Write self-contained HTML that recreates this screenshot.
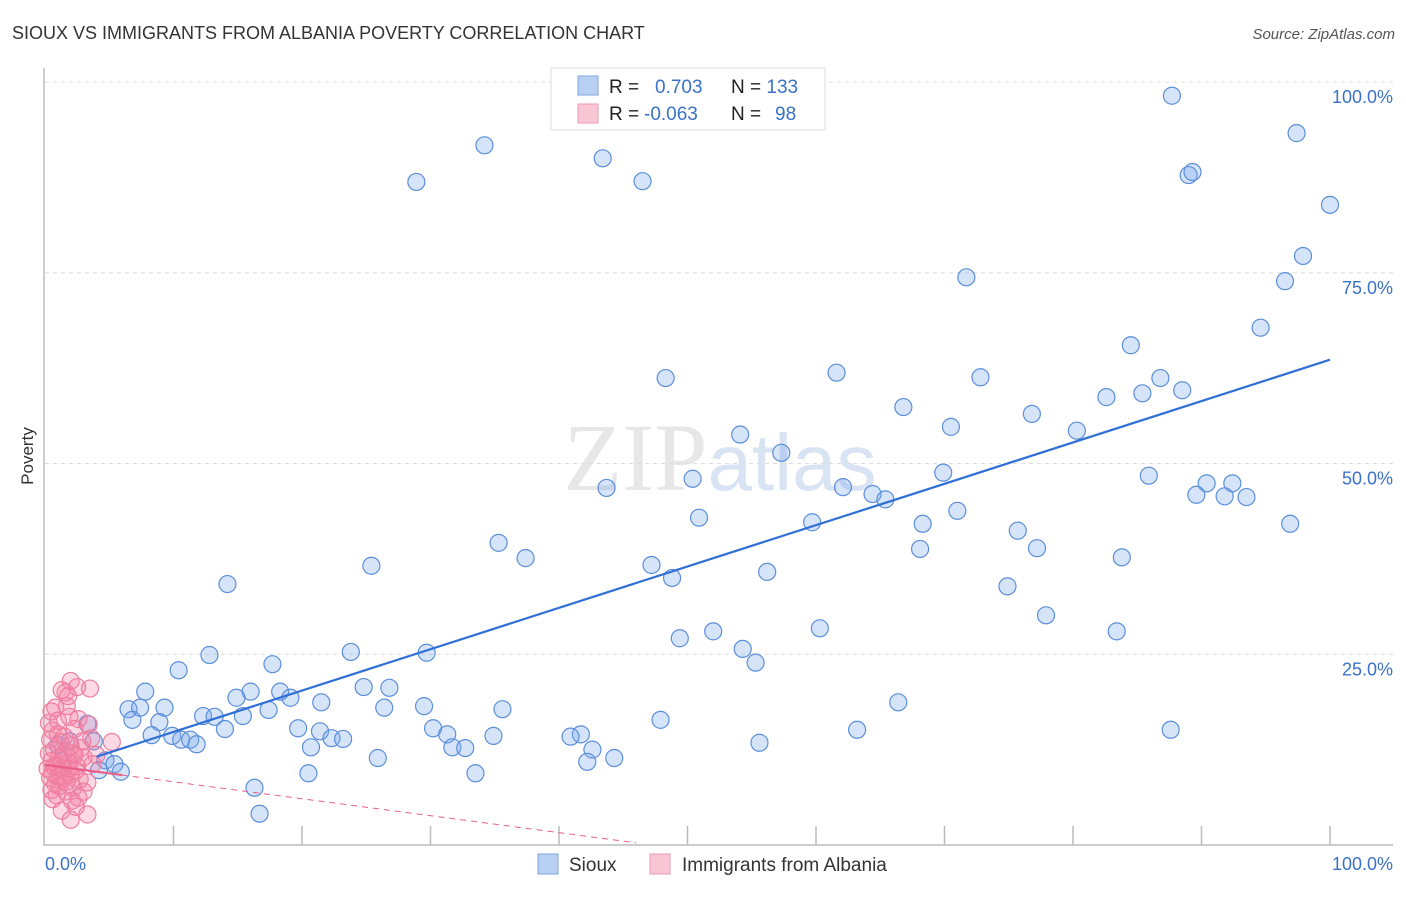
<!DOCTYPE html>
<html><head><meta charset="utf-8"><style>
body{margin:0;background:#fff;font-family:"Liberation Sans",sans-serif}
</style></head><body>
<svg id="chart" width="1406" height="892" xmlns="http://www.w3.org/2000/svg" font-family="Liberation Sans, sans-serif">
<text x="12" y="39" font-size="18" fill="#333">SIOUX VS IMMIGRANTS FROM ALBANIA POVERTY CORRELATION CHART</text>
<text x="1395" y="39" font-size="15" fill="#555" text-anchor="end" font-style="italic">Source: ZipAtlas.com</text>
<text x="720" y="490" font-size="96" fill="#ddd" text-anchor="middle" font-family="Liberation Serif, serif" opacity="0.7">ZIP<tspan fill="#c8d8f0" font-family="Liberation Sans, sans-serif" font-size="80">atlas</tspan></text>
<text transform="translate(33,456) rotate(-90)" font-size="17" fill="#333" text-anchor="middle">Poverty</text>
<g id="grid"></g>
<g id="pts"></g>
<g id="lines"></g>
<g>
<rect x="551" y="68" width="274" height="62" fill="#fff" stroke="#ddd"/>
<rect x="578" y="76" width="20" height="19" fill="#b8d1f3" stroke="#7fa6e0"/>
<rect x="578" y="104" width="20" height="19" fill="#f9c6d6" stroke="#ee9ab5"/>
<text x="609" y="93" font-size="19" fill="#222">R = <tspan fill="#3a72c8" x="655">0.703</tspan><tspan x="731" fill="#222">N = </tspan><tspan fill="#3a72c8">133</tspan></text>
<text x="609" y="120" font-size="19" fill="#222">R = <tspan fill="#3a72c8" x="644">-0.063</tspan><tspan x="731" fill="#222">N = </tspan><tspan fill="#3a72c8" x="775">98</tspan></text>
</g>
<g>
<rect x="538" y="854" width="20" height="20" fill="#b8d1f3" stroke="#7fa6e0"/>
<text x="569" y="871" font-size="19" fill="#333">Sioux</text>
<rect x="650" y="854" width="20" height="20" fill="#f9c6d6" stroke="#ee9ab5"/>
<text x="682" y="871" font-size="19" fill="#333">Immigrants from Albania</text>
</g>
</svg>
<script>
const yTicks=[25,50,75,100];
const yTickLabels=["25.0%","50.0%","75.0%","100.0%"];
const xTickLabels=["0.0%","100.0%"];
const siouxX=[87.7,34.2,43.4,28.9,46.5,97.4,89.0,89.3,100,97.9,71.7,96.5,94.6,84.5,61.6,48.3,72.8,86.8,85.4,88.5,82.6,66.8,76.8,70.5,80.3,54.1,57.3,69.9,85.9,50.4,43.7,62.1,64.4,65.4,90.4,92.4,89.6,91.8,93.5,71.0,50.9,59.7,68.3,96.9,75.7,35.3,68.1,77.2,37.4,83.8,25.4,47.2,56.2,48.8,14.2,74.9,77.9,60.3,52.0,83.4,49.4,54.3,23.8,29.7,12.8,55.3,17.7,10.4,7.8,16.0,18.3,24.8,26.8,14.9,19.1,6.5,7.4,9.3,21.5,29.5,26.4,35.6,17.4,66.4,12.3,13.2,15.4,3.3,6.8,8.9,47.9,19.7,30.2,14.0,21.4,87.6,63.2,8.3,9.9,31.3,34.9,41.7,40.9,22.3,23.2,10.6,11.3,11.8,3.8,20.7,31.7,32.7,42.6,55.6,4.7,5.4,25.9,42.2,44.3,4.2,5.9,20.5,33.5,16.3,16.7,1.0,1.3,1.9];
const siouxY=[98.2,91.7,90.0,86.9,87.0,93.3,87.8,88.2,83.9,77.2,74.4,73.9,67.8,65.5,61.9,61.2,61.3,61.2,59.2,59.6,58.7,57.4,56.5,54.8,54.3,53.8,51.4,48.8,48.4,48.0,46.8,46.9,46.0,45.3,47.4,47.4,45.9,45.7,45.6,43.8,42.9,42.3,42.1,42.1,41.2,39.6,38.8,38.9,37.6,37.7,36.6,36.7,35.8,35.0,34.2,33.9,30.1,28.4,28.0,28.0,27.1,25.7,25.3,25.2,24.9,23.9,23.7,22.9,20.1,20.1,20.1,20.7,20.6,19.3,19.3,17.8,18.0,18.0,18.7,18.2,18.0,17.8,17.7,18.7,16.9,16.8,16.9,15.9,16.4,16.1,16.4,15.3,15.3,15.2,14.9,15.1,15.1,14.4,14.3,14.5,14.3,14.5,14.2,14.0,13.9,13.8,13.8,13.2,13.6,12.8,12.8,12.7,12.5,13.4,11.1,10.6,11.4,10.9,11.4,9.8,9.6,9.4,9.4,7.5,4.1,13.1,11.1,13.6];
const albX=[2.0,1.6,1.8,3.5,1.3,2.5,0.8,1.7,0.5,2.6,1.0,3.4,0.6,2.3,1.5,0.4,1.2,2.0,2.8,0.7,1.6,0.3,2.3,1.1,3.0,0.5,1.8,0.9,2.5,0.2,1.4,3.7,0.6,2.0,1.2,0.4,2.7,1.7,0.8,3.3,1.1,2.2,0.5,1.6,3.0,2.6,0.9,2.1,0.6,2.4,1.3,3.3,2.0,5.2,4.0,3.6,1.9,0.3,2.9,1.0,1.4,2.2,0.7,1.9,1.0,2.4,1.5];
const albY=[21.5,20.0,19.5,20.5,20.3,20.7,18.0,18.2,17.5,16.5,16.3,15.8,15.0,15.2,14.2,13.8,13.5,13.0,12.7,12.5,12.3,12.0,11.8,11.5,11.5,11.0,10.8,10.5,10.3,10.0,10.0,10.6,9.5,9.3,9.0,8.8,8.6,8.3,8.0,8.2,7.7,7.5,7.2,7.0,7.0,6.2,6.5,5.8,6.0,5.0,4.5,4.0,3.3,13.5,11.8,14.0,16.8,16.0,13.6,14.5,11.8,12.0,10.3,10.0,9.0,9.8,8.8];
const siouxFit=[9.4,0.542],albFit=[10.5,-0.222];
const NS="http://www.w3.org/2000/svg";
const X=v=>45+v*12.85, Y=v=>845-v*7.63;
function mk(t,a,p){const e=document.createElementNS(NS,t);for(const k in a)e.setAttribute(k,a[k]);(p||document.getElementById('chart')).appendChild(e);return e;}
const grid=document.getElementById('grid');
yTicks.forEach((t,i)=>{
 const l=mk('line',{x1:45,x2:1393,y1:Y(t),y2:Y(t),stroke:'#ddd','stroke-dasharray':'4,4'},grid);
 
 
 const tx=mk('text',{x:1393,y:Y(t)+21,'font-size':18,fill:'#3a72c8','text-anchor':'end'},grid);
 tx.textContent=yTickLabels[i];
 
 
});
const ax=mk('path',{d:'M44,68V845H1393',fill:'none',stroke:'#bbb','stroke-width':1.5},grid);


for(let i=1;i<=10;i++){const tk=mk('line',{x1:X(i*10),x2:X(i*10),y1:826,y2:845,stroke:'#bbb','stroke-width':1.5},grid);
 
 }
[[0,'start'],[100,'end']].forEach((d,i)=>{const t=mk('text',{x:i?1393:45,y:870,'font-size':18,fill:'#3a72c8','text-anchor':d[1]},grid);t.textContent=xTickLabels[i];
 
 });
const pts=document.getElementById('pts');
siouxX.forEach((x,i)=>{const c=mk('circle',{cx:X(x),cy:Y(siouxY[i]),r:8.5,fill:'rgba(120,165,235,0.3)',stroke:'#5b8fd9','stroke-width':1.2},pts);
 
 });
albX.forEach((x,i)=>{const c=mk('circle',{cx:X(x),cy:Y(albY[i]),r:8.5,fill:'rgba(245,130,165,0.3)',stroke:'#ee7fa0','stroke-width':1.2},pts);
 
 });
const ln=document.getElementById('lines');
let b=mk('line',{x1:X(4),y1:Y(siouxFit[0]+siouxFit[1]*4),x2:X(100),y2:Y(siouxFit[0]+siouxFit[1]*100),stroke:'#2f6fd6','stroke-width':2.2},ln);


let p=mk('line',{x1:X(0),y1:Y(albFit[0]),x2:X(6),y2:Y(albFit[0]+albFit[1]*6),stroke:'#e8608a','stroke-width':2.2},ln);


let p2=mk('line',{x1:X(6),y1:Y(albFit[0]+albFit[1]*6),x2:X(46),y2:Y(albFit[0]+albFit[1]*46),stroke:'#e8608a','stroke-width':1,'stroke-dasharray':'6,5'},ln);


</script>
</body></html>
